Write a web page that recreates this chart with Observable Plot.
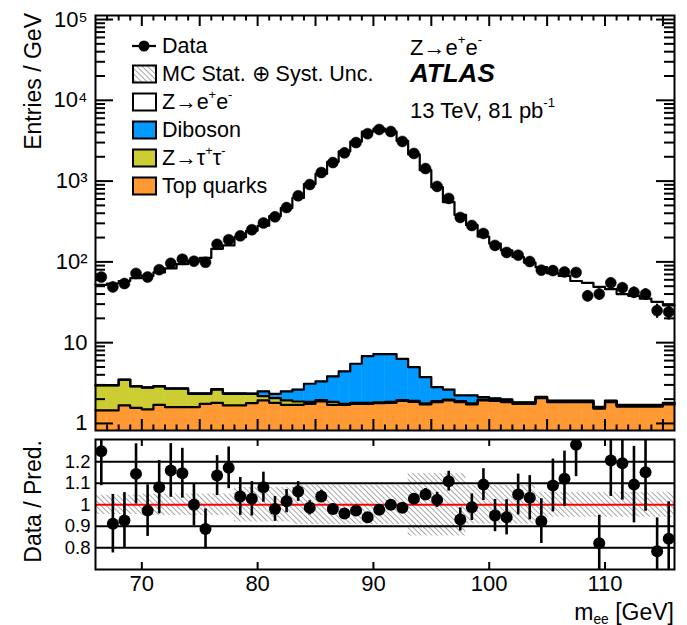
<!DOCTYPE html>
<html><head><meta charset="utf-8">
<script src="https://cdn.jsdelivr.net/npm/d3@7"></script>
<script src="https://cdn.jsdelivr.net/npm/@observablehq/plot@0.6"></script>
<style>
body{margin:0;background:#fff;}
#c{position:relative;width:687px;height:625px;}
#c svg{position:absolute;left:0;}
</style></head><body>
<svg width="0" height="0" style="position:absolute"><defs>
<pattern id="hatch" patternUnits="userSpaceOnUse" width="3.8" height="3.8" patternTransform="rotate(-45)">
<line x1="0" y1="0" x2="0" y2="3.8" stroke="#8c8c8c" stroke-width="1.5"/></pattern></defs></svg>
<div id="c"></div>
<script>
// ---------- data ----------
const binLow = [66,67,68,69,70,71,72,73,74,75,76,77,78,79,80,81,82,83,84,85,86,87,88,89,90,
  91,92,93,94,95,96,97,98,99,100,101,102,103,104,105,106,107,108,109,110,111,112,113,114,115];
const dataEntries = [65,49,54,72,65,80,96,108,102,99,
  165,188,210,250,303,361,471,658,907,1278,
  1697,2237,2997,3862,4357,4110,3096,2200,1431,860,
  611,355,282,225,160,131,121,101,79,78,
  75,74,38,40,55,48,42,40,25,24];
const prediction = [52,54,58,63,67,74,83,94,102,112,
  145,160,202,243,280,368,463,620,920,1230,
  1730,2330,3080,4100,4460,4110,3140,2140,1365,841,
  550,381,285,206,168,139,115,98,86,72,
  67,58,55,49,46,40,38,35,32,29];
const topQuarks = [1.45,1.45,1.67,1.56,1.49,1.70,1.59,1.59,1.59,1.75,
  1.80,1.67,1.67,1.78,1.93,1.80,1.70,1.70,1.75,1.87,
  1.70,1.70,1.75,1.75,1.78,1.80,1.90,1.85,1.72,1.84,
  1.93,1.84,1.72,1.93,1.90,1.84,1.75,1.75,2.06,1.84,
  1.84,1.84,1.84,1.52,1.84,1.62,1.62,1.62,1.62,1.72];
const zTauTau = [1.50,1.50,1.80,1.31,1.28,1.17,1.10,1.10,0.74,0.58,
  0.83,0.66,0.66,0.55,0.25,0.26,0.23,0.17,0.10,0.08,
  0.15,0.05,0.05,0.05,0.05,0.05,0.05,0.05,0.05,0.05,
  0.05,0.05,0.05,0.05,0.05,0.05,0.05,0.05,0.05,0.05,
  0.05,0.05,0.05,0.05,0.05,0.05,0.05,0.05,0.05,0.05];
const diboson = [0.03,0.03,0.03,0.03,0.03,0.03,0.03,0.03,0.03,0.03,
  0.03,0.03,0.03,0.02,0.31,0.27,0.56,0.76,1.25,1.36,
  1.97,2.65,3.68,5.00,5.37,5.35,4.35,3.08,1.97,0.93,
  0.65,0.33,0.45,0.14,0.10,0.10,0.03,0.03,0.03,0.03,
  0.03,0.03,0.03,0.03,0.03,0.03,0.03,0.03,0.03,0.03];
const ratio = [1.249,0.912,0.927,1.144,0.973,1.082,1.16,1.147,1.0,0.888,
  1.136,1.172,1.039,1.028,1.082,0.981,1.017,1.062,0.986,1.039,
  0.981,0.96,0.973,0.942,0.977,1.0,0.986,1.028,1.048,1.023,
  1.11,0.932,0.989,1.094,0.95,0.942,1.048,1.033,0.924,1.09,
  1.121,1.28,null,0.821,1.206,1.194,1.094,1.152,0.784,0.842];
const ratioErr = [0.16,0.136,0.13,0.14,0.12,0.124,0.125,0.116,0.097,0.093,
  0.093,0.097,0.088,0.08,0.07,0.058,0.054,0.046,0.033,0.029,
  0.024,0.02,0.018,0.015,0.015,0.016,0.018,0.022,0.028,0.035,
  0.046,0.054,0.062,0.074,0.075,0.082,0.095,0.103,0.104,0.123,
  0.129,0.149,0.11,0.13,0.167,0.172,0.178,0.182,0.155,0.172];
const uncBand = [0.045,0.045,0.045,0.045,0.05,0.05,0.05,0.05,0.05,0.05,
  0.05,0.05,0.08,0.08,0.08,0.08,0.08,0.092,0.092,0.092,
  0.092,0.092,0.092,0.092,0.092,0.092,0.092,0.145,0.145,0.145,
  0.145,0.145,0.09,0.09,0.09,0.09,0.09,0.09,0.058,0.058,
  0.058,0.058,0.058,0.058,0.058,0.058,0.058,0.058,0.058,0.058];
const mainYTicks = [1,10,100,1000,10000,100000];
const mainYTickLabels = ["1","10","10²","10³","10⁴","10⁵"];
const mainYMinor = [2,3,4,5,6,7,8,9,20,30,40,50,60,70,80,90,200,300,400,500,600,700,800,900,
  2000,3000,4000,5000,6000,7000,8000,9000,20000,30000,40000,50000,60000,70000,80000,90000];
const xMajor = [70,80,90,100,110];
const xMid = [70,75,80,85,90,95,100,105,110,115];
const xMinor = [67,68,69,71,72,73,74,76,77,78,79,81,82,83,84,86,87,88,89,91,92,93,94,96,97,98,99,
  101,102,103,104,106,107,108,109,111,112,113,114];
const ratioTicks = [0.8,0.9,1,1.1,1.2];
const ratioTickLabels = ["0.8","0.9","1","1.1","1.2"];
const ratioGrid = [0.8,0.9,1.1,1.2];
const colors = {top:"#ff9933", ztt:"#cccc33", dib:"#0099ff"};
// ---------------------------------------------------

const FONT = '"Liberation Sans", Arial, Helvetica, sans-serif';
const yMain = [0.818, 112200];
const rows = binLow.map((lo,i)=>{
  const c1 = topQuarks[i], c2 = c1 + zTauTau[i], c3 = c2 + diboson[i];
  return {lo, hi: lo+1, c: lo+0.5, data: dataEntries[i], pred: prediction[i], c1, c2, c3,
          r: ratio[i], re: ratioErr[i], band: uncBand[i]};
});
const stepPts = key => rows.map(d=>({x:d.lo, y:d[key]})).concat([{x:116, y: rows[rows.length-1][key]}]);
const FW = 687-95-13, FH = 430-15, RH = 130;

const main = Plot.plot({
  width: 687, height: 444, marginLeft: 95, marginRight: 13, marginTop: 15, marginBottom: 14,
  style: {fontFamily: FONT, fontSize: "22px", background: "transparent", color: "black"},
  x: {domain: [66,116], axis: null, label: null},
  y: {type: "log", domain: yMain, label: null},
  marks: [
    Plot.rect(rows, {x1:"lo", x2:"hi", y1:"c3", y2:"pred", fill:"white"}),
    Plot.rect(rows, {x1:"lo", x2:"hi", y1:"c2", y2:"c3", fill:colors.dib, stroke:colors.dib, strokeWidth:0.5}),
    Plot.rect(rows, {x1:"lo", x2:"hi", y1:"c1", y2:"c2", fill:colors.ztt, stroke:colors.ztt, strokeWidth:0.5}),
    Plot.rect(rows, {x1:"lo", x2:"hi", y1:yMain[0], y2:"c1", fill:colors.top, stroke:colors.top, strokeWidth:0.5}),
    Plot.line(stepPts("c1"), {x:"x", y:"y", curve:"step-after", stroke:"black", strokeWidth:2.2}),
    Plot.line(stepPts("c2"), {x:"x", y:"y", curve:"step-after", stroke:"black", strokeWidth:2.2}),
    Plot.line(stepPts("c3"), {x:"x", y:"y", curve:"step-after", stroke:"black", strokeWidth:2.2}),
    Plot.line(stepPts("pred"), {x:"x", y:"y", curve:"step-after", stroke:"black", strokeWidth:2.2}),
    Plot.ruleX(rows, {x:"c", y1:d=>d.data - d.re*d.pred, y2:d=>d.data + d.re*d.pred, stroke:"black", strokeWidth:2.2}),
    Plot.dot(rows, {x:"c", y:"data", r:5.5, fill:"black", stroke:"black", strokeWidth:0.5}),
    // inward ticks
    Plot.tickY(mainYTicks, {y:d=>d, insetRight: FW-18, strokeWidth:2}),
    Plot.tickY(mainYTicks, {y:d=>d, insetLeft: FW-18, strokeWidth:2}),
    Plot.tickY(mainYMinor, {y:d=>d, insetRight: FW-10, strokeWidth:2}),
    Plot.tickY(mainYMinor, {y:d=>d, insetLeft: FW-10, strokeWidth:2}),
    Plot.tickX(xMid, {x:d=>d, insetTop: FH-11, strokeWidth:2}),
    Plot.tickX(xMid, {x:d=>d, insetBottom: FH-11, strokeWidth:2}),
    Plot.tickX(xMinor, {x:d=>d, insetTop: FH-5.5, strokeWidth:2}),
    Plot.tickX(xMinor, {x:d=>d, insetBottom: FH-5.5, strokeWidth:2}),
    Plot.axisY({ticks: mainYTicks, tickSize: 0, tickPadding: 8, label: null,
      tickFormat: d => mainYTickLabels[mainYTicks.indexOf(d)]}),
    Plot.frame({stroke:"black", strokeWidth:2})
  ]
});
main.style.top = "0px";

const rrows = rows.filter(d=>d.r != null);
const ratioPlot = Plot.plot({
  width: 687, height: 193, marginLeft: 95, marginRight: 13, marginTop: 7, marginBottom: 56,
  style: {fontFamily: FONT, fontSize: "22px", background: "transparent", color: "black"},
  x: {domain: [66,116], label: null},
  y: {domain: [0.699, 1.304], label: null},
  marks: [
    Plot.rect(rows, {x1:"lo", x2:"hi", y1:d=>1-d.band, y2:d=>1+d.band, fill:"url(#hatch)"}),
    Plot.ruleY(ratioGrid, {stroke:"black", strokeWidth:2}),
    Plot.ruleY([1], {stroke:"#ff0000", strokeWidth:2}),
    Plot.ruleX(rrows, {x:"c", y1:d=>d.r-d.re, y2:d=>d.r+d.re, stroke:"black", strokeWidth:2.6, clip:true}),
    Plot.dot(rrows, {x:"c", y:"r", r:6, fill:"black", clip:true}),
    Plot.tickX(xMajor, {x:d=>d, insetTop: RH-7, strokeWidth:2}),
    Plot.tickX(xMajor, {x:d=>d, insetBottom: RH-7, strokeWidth:2}),
    Plot.axisX({ticks: xMajor, tickSize: 0, tickPadding: 6, label: null}),
    Plot.axisY({ticks: ratioTicks, tickSize: 0, tickPadding: 5, label: null, fontSize: 18.5,
      tickFormat: d => ratioTickLabels[ratioTicks.indexOf(d)]}),
    Plot.frame({stroke:"black", strokeWidth:2})
  ]
});
ratioPlot.style.top = "432px";

const cont = document.getElementById("c");
cont.appendChild(main);
cont.appendChild(ratioPlot);

// ---------- overlay: titles, legend, labels ----------
const ov = d3.select(cont).append("svg").attr("width",687).attr("height",625)
  .style("top","0px").style("pointer-events","none")
  .attr("font-family", FONT);

function richText(g, parts, size){
  const t = g.append("text").attr("font-size", size).attr("dominant-baseline","central");
  for (const [s, mode] of parts){
    const ts = t.append("tspan").text(s);
    if (mode === "sup"){ ts.attr("font-size", size*0.6).attr("dy", -size*0.38); }
    else if (mode === "sub"){ ts.attr("font-size", size*0.6).attr("dy", size*0.3); }
    else if (mode === "back-sup"){ ts.attr("dy", size*0.38); }
    else if (mode === "back-sub"){ ts.attr("dy", -size*0.3); }
  }
  return t;
}

// axis titles
ov.append("text").text("Entries / GeV").attr("font-size",23).attr("text-anchor","end")
  .attr("dominant-baseline","central").attr("transform","translate(33,13) rotate(-90)");
ov.append("text").text("Data / Pred.").attr("font-size",23).attr("text-anchor","end")
  .attr("dominant-baseline","central").attr("transform","translate(33,440) rotate(-90)");
richText(ov, [["m",""],["ee","sub"],[" [GeV]","back-sub"]], 23)
  .attr("text-anchor","end").attr("x",674).attr("y",612);

// legend
const legendRows = [
  {label:[["Data",""]], kind:"data"},
  {label:[["MC Stat. ⊕ Syst. Unc.",""]], kind:"hatch"},
  {label:[["Z→e",""],["+","sup"],["e","back-sup"],["-","sup"]], kind:"box", fill:"white"},
  {label:[["Diboson",""]], kind:"box", fill:colors.dib},
  {label:[["Z→τ",""],["+","sup"],["τ","back-sup"],["-","sup"]], kind:"box", fill:colors.ztt},
  {label:[["Top quarks",""]], kind:"box", fill:colors.top}
];
const legY = [46,74,102,130,158,186];
legendRows.forEach((r,i)=>{
  const y = legY[i];
  if (r.kind === "data"){
    ov.append("line").attr("x1",132).attr("x2",156).attr("y1",y).attr("y2",y).attr("stroke","black").attr("stroke-width",2.2);
    ov.append("circle").attr("cx",144).attr("cy",y).attr("r",5.5).attr("fill","black");
  } else {
    ov.append("rect").attr("x",133).attr("y",y-8.5).attr("width",23).attr("height",17)
      .attr("fill", r.kind==="hatch" ? "url(#hatch)" : r.fill).attr("stroke","black").attr("stroke-width",2);
  }
  richText(ov, r.label, 21.5).attr("x",162).attr("y",y);
});

// ATLAS labels
richText(ov, [["Z→e",""],["+","sup"],["e","back-sup"],["-","sup"]], 22).attr("x",410).attr("y",47);
ov.append("text").text("ATLAS").attr("x",410).attr("y",73).attr("font-size",26)
  .attr("font-weight","bold").attr("font-style","italic").attr("dominant-baseline","central");
richText(ov, [["13 TeV, 81 pb",""],["-1","sup"]], 22).attr("x",410).attr("y",110);
</script></body></html>
